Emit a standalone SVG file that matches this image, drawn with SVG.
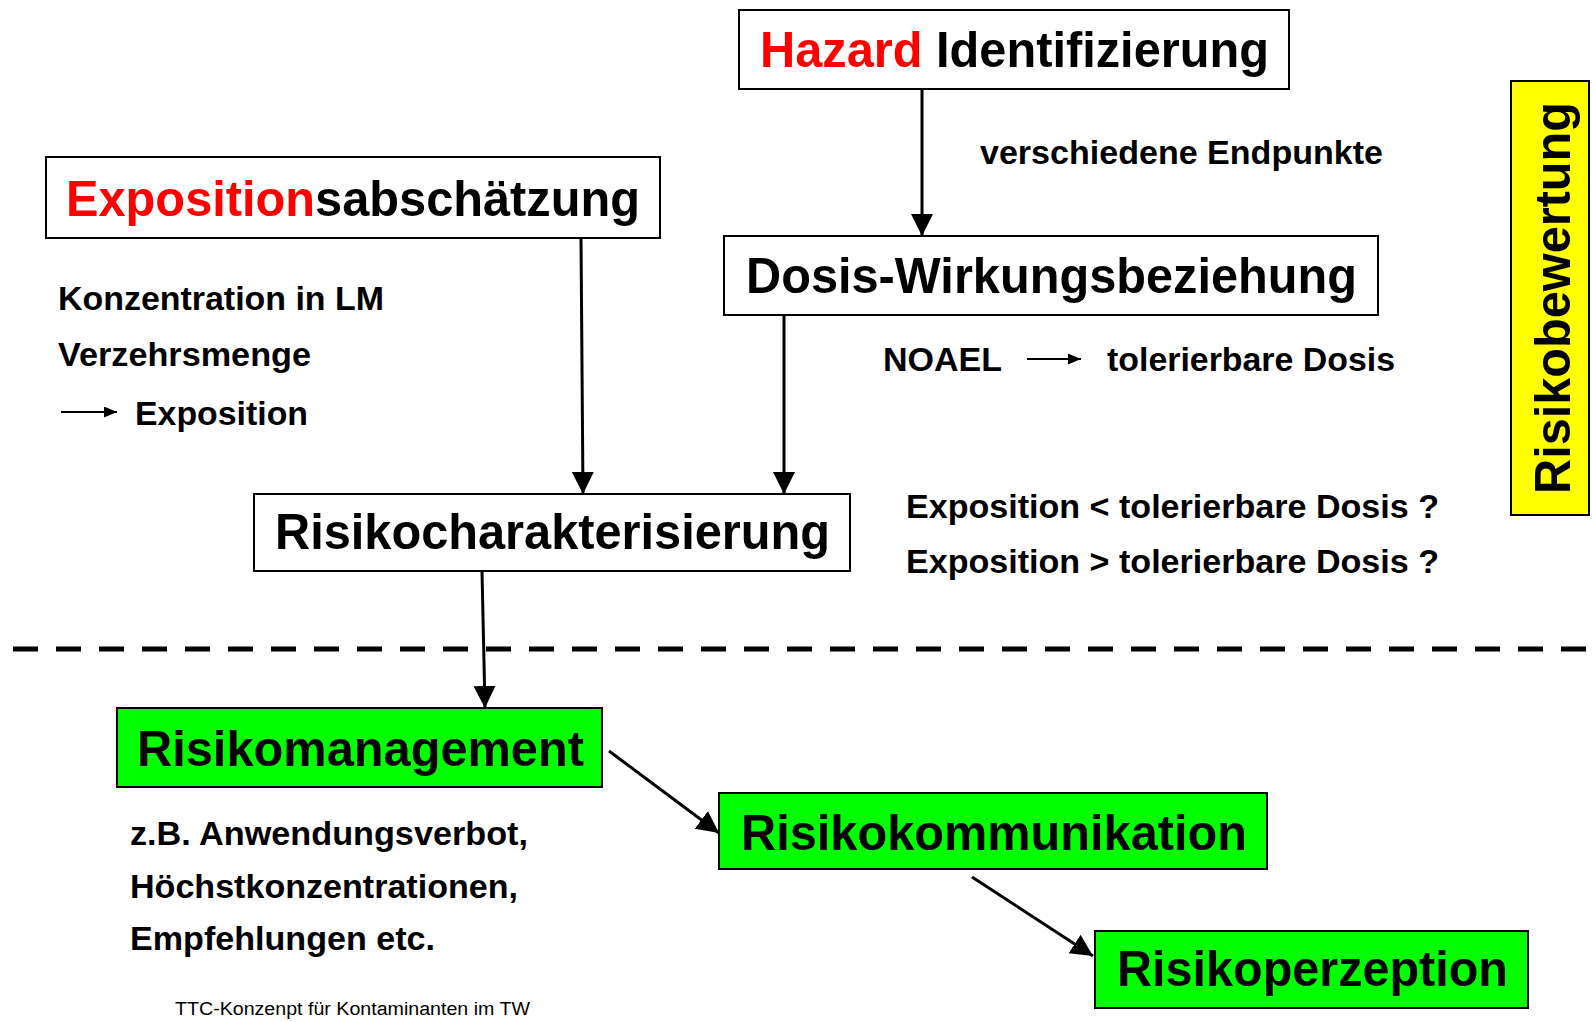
<svg xmlns="http://www.w3.org/2000/svg" width="1592" height="1022" viewBox="0 0 1592 1022">
<style>
text{font-family:"Liberation Sans",Arial,sans-serif;font-weight:bold;fill:#000}
.box{fill:#fff;stroke:#000;stroke-width:2}
.green{fill:#00ff00;stroke:#000;stroke-width:2}
.yellow{fill:#ffff00;stroke:#000;stroke-width:2}
.title{font-size:50px}
.label{font-size:34px}
.red{fill:#ff0000}
.conn{stroke:#000;stroke-width:3;fill:none;marker-end:url(#ah)}
.thin{stroke:#000;stroke-width:2;fill:none;marker-end:url(#sh)}
</style>
<defs>
<marker id="ah" markerUnits="userSpaceOnUse" markerWidth="24" markerHeight="24" refX="22" refY="11" orient="auto" viewBox="0 0 24 24">
<path d="M0,0 L22,11 L0,22 z" fill="#000"/>
</marker>
<marker id="sh" markerUnits="userSpaceOnUse" markerWidth="14" markerHeight="12" refX="13" refY="5.5" orient="auto" viewBox="0 0 14 12">
<path d="M0,0 L13,5.5 L0,11 z" fill="#000"/>
</marker>
</defs>
<rect width="1592" height="1022" fill="#fff"/>

<g id="hazard">
<rect class="box" x="739" y="10" width="550" height="79"/>
<text class="title" x="760" y="67" textLength="509" lengthAdjust="spacingAndGlyphs"><tspan class="red">Hazard</tspan> Identifizierung</text>
</g>

<g id="exposition">
<rect class="box" x="46" y="157" width="614" height="81"/>
<text class="title" x="66" y="216" textLength="574" lengthAdjust="spacingAndGlyphs"><tspan class="red">Exposition</tspan>sabschätzung</text>
</g>

<g id="dosis">
<rect class="box" x="724" y="236" width="654" height="79"/>
<text class="title" x="746" y="293" textLength="611" lengthAdjust="spacingAndGlyphs">Dosis-Wirkungsbeziehung</text>
</g>

<g id="risikochar">
<rect class="box" x="254" y="494" width="596" height="77"/>
<text class="title" x="275" y="549" textLength="555" lengthAdjust="spacingAndGlyphs">Risikocharakterisierung</text>
</g>

<g id="risikobewertung">
<rect class="yellow" x="1511" y="81" width="78" height="434"/>
<text class="title" transform="translate(1570,494) rotate(-90)" x="0" y="0" textLength="392" lengthAdjust="spacingAndGlyphs">Risikobewertung</text>
</g>

<g id="risikomanagement">
<rect class="green" x="117" y="708" width="485" height="79"/>
<text class="title" x="137" y="766" textLength="447" lengthAdjust="spacingAndGlyphs">Risikomanagement</text>
</g>

<g id="risikokommunikation">
<rect class="green" x="719" y="793" width="548" height="76"/>
<text class="title" x="741" y="850" textLength="506" lengthAdjust="spacingAndGlyphs">Risikokommunikation</text>
</g>

<g id="risikoperzeption">
<rect class="green" x="1095" y="931" width="433" height="77"/>
<text class="title" x="1117" y="986" textLength="391" lengthAdjust="spacingAndGlyphs">Risikoperzeption</text>
</g>

<g id="labels">
<text class="label" x="980" y="164" textLength="403" lengthAdjust="spacingAndGlyphs">verschiedene Endpunkte</text>
<text class="label" x="58" y="310" textLength="326" lengthAdjust="spacingAndGlyphs">Konzentration in LM</text>
<text class="label" x="58" y="366" textLength="253" lengthAdjust="spacingAndGlyphs">Verzehrsmenge</text>
<text class="label" x="135" y="425" textLength="173" lengthAdjust="spacingAndGlyphs">Exposition</text>
<text class="label" x="883" y="371" textLength="119" lengthAdjust="spacingAndGlyphs">NOAEL</text>
<text class="label" x="1107" y="371" textLength="288" lengthAdjust="spacingAndGlyphs">tolerierbare Dosis</text>
<text class="label" x="906" y="518" textLength="533" lengthAdjust="spacingAndGlyphs">Exposition &lt; tolerierbare Dosis ?</text>
<text class="label" x="906" y="573" textLength="533" lengthAdjust="spacingAndGlyphs">Exposition &gt; tolerierbare Dosis ?</text>
<text class="label" x="130" y="845" textLength="398" lengthAdjust="spacingAndGlyphs">z.B. Anwendungsverbot,</text>
<text class="label" x="130" y="898" textLength="388" lengthAdjust="spacingAndGlyphs">Höchstkonzentrationen,</text>
<text class="label" x="130" y="950" textLength="305" lengthAdjust="spacingAndGlyphs">Empfehlungen etc.</text>
<text x="175" y="1015" style="font-size:18px;font-weight:normal" textLength="355" lengthAdjust="spacingAndGlyphs">TTC-Konzenpt für Kontaminanten im TW</text>
</g>

<line x1="13" y1="649" x2="1592" y2="649" stroke="#000" stroke-width="5" stroke-dasharray="25 18"/>

<g id="connectors">
<line class="conn" x1="922" y1="89" x2="922" y2="236"/>
<line class="conn" x1="581" y1="238" x2="583" y2="494"/>
<line class="conn" x1="784" y1="315" x2="784" y2="494"/>
<line class="conn" x1="482" y1="571" x2="485" y2="708"/>
<line class="conn" x1="609" y1="751" x2="719" y2="833"/>
<line class="conn" x1="972" y1="877" x2="1093" y2="956"/>
<line class="thin" x1="61" y1="412" x2="117" y2="412"/>
<line class="thin" x1="1027" y1="359" x2="1081" y2="359"/>
</g>
</svg>
